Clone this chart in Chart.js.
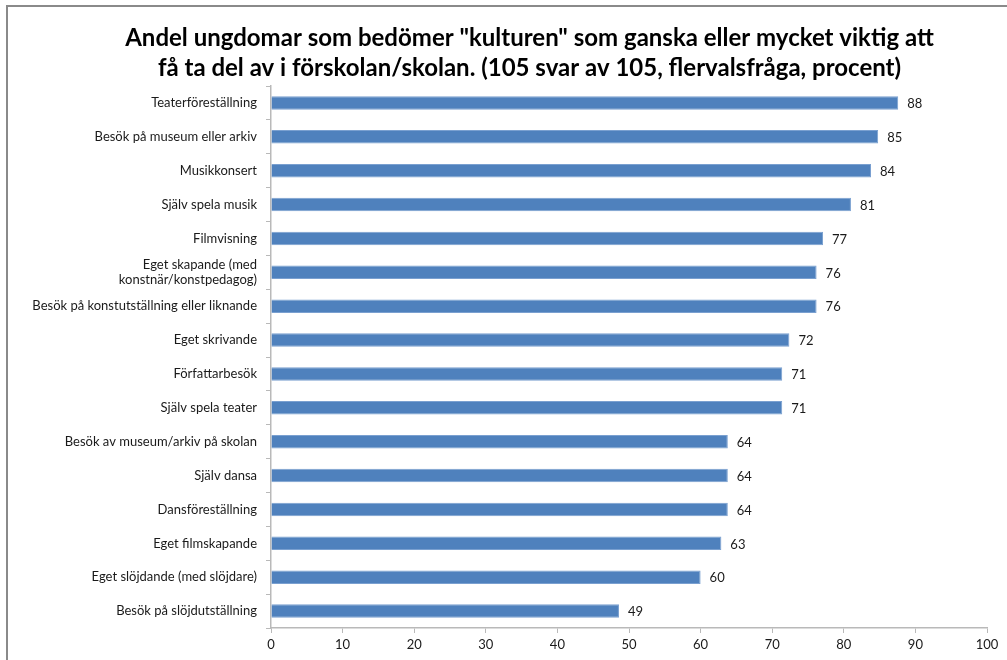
<!DOCTYPE html>
<html>
<head>
<meta charset="utf-8">
<script src="https://cdn.jsdelivr.net/npm/chart.js@4"></script>
<style>
  body { margin: 0; background: #fff; }
  #frame { position: absolute; left: 6px; top: 5px; width: 1100px; height: 700px;
           border-left: 2px solid #8a8a8a; border-top: 2px solid #8a8a8a; }
  #wrap { position: absolute; left: 0; top: 0; width: 1007px; height: 660px; }
</style>
</head>
<body>
<div id="frame"></div>
<div id="wrap"><canvas id="kulturChart"></canvas></div>
<script>
const categories = [
  "Teaterföreställning",
  "Besök på museum eller arkiv",
  "Musikkonsert",
  "Själv spela musik",
  "Filmvisning",
  ["Eget skapande (med", "konstnär/konstpedagog)"],
  "Besök på konstutställning eller liknande",
  "Eget skrivande",
  "Författarbesök",
  "Själv spela teater",
  "Besök av museum/arkiv på skolan",
  "Själv dansa",
  "Dansföreställning",
  "Eget filmskapande",
  "Eget slöjdande (med slöjdare)",
  "Besök på slöjdutställning"
];
// percent (labels are rounded)
const values = [87.6, 84.8, 83.8, 81.0, 77.1, 76.2, 76.2, 72.4, 71.4, 71.4, 63.8, 63.8, 63.8, 62.9, 60.0, 48.6];
const xTicks = [0, 10, 20, 30, 40, 50, 60, 70, 80, 90, 100];

const titleLines = [
  'Andel ungdomar som bedömer "kulturen" som ganska eller mycket viktig att',
  'få ta del av i förskolan/skolan. (105 svar av 105, flervalsfråga, procent)'
];

const axisGray = "#b9b9b9";
const textCol = "#1a1a1a";
const fontFam = "Lato, 'Open Sans', sans-serif";

// value labels to the right of each bar
const valueLabels = {
  id: "valueLabels",
  afterDatasetsDraw(chart) {
    const ctx = chart.ctx;
    const meta = chart.getDatasetMeta(0);
    ctx.save();
    ctx.font = "13px " + fontFam;
    ctx.fillStyle = textCol;
    ctx.textAlign = "left";
    ctx.textBaseline = "middle";
    meta.data.forEach(function(bar, i) {
      ctx.fillText(String(Math.round(values[i])), bar.x + 9, bar.y + 1);
    });
    ctx.restore();
  }
};

// the title sits a bit right of the canvas centre in the original
const shiftTitle = {
  id: "shiftTitle",
  afterLayout(chart) {
    const t = chart.titleBlock;
    if (t) { t.left += 36; t.right += 36; }
  }
};

const ctx = document.getElementById("kulturChart").getContext("2d");
new Chart(ctx, {
  type: "bar",
  data: {
    labels: categories,
    datasets: [{
      data: values,
      backgroundColor: "#4f81bd",
      borderColor: "#7aa0d0",
      borderWidth: 1,
      barPercentage: 0.8,
      categoryPercentage: 0.5
    }]
  },
  options: {
    indexAxis: "y",
    responsive: true,
    maintainAspectRatio: false,
    animation: false,
    layout: { padding: { top: 8, right: 20, left: 0, bottom: 0 } },
    plugins: {
      legend: { display: false },
      tooltip: { enabled: false },
      title: {
        display: true,
        text: titleLines,
        color: "#000",
        font: { family: fontFam, size: 24, weight: "bold", lineHeight: 1.25 },
        padding: { top: 15, bottom: 3 }
      }
    },
    scales: {
      x: {
        min: 0,
        max: 100,
        afterBuildTicks(scale) {
          scale.ticks = xTicks.map(v => ({ value: v }));
        },
        afterFit(scale) { scale.height = 32; },
        grid: { drawOnChartArea: false, color: axisGray, tickLength: 5 },
        border: { color: axisGray, width: 1.5 },
        ticks: { color: textCol, padding: 4, font: { family: fontFam, size: 13 } }
      },
      y: {
        afterFit(scale) { scale.width = 271; },
        grid: { drawOnChartArea: false, color: axisGray, tickLength: 5, offset: true },
        border: { color: axisGray, width: 1.5 },
        ticks: { color: textCol, padding: 9, autoSkip: false, font: { family: fontFam, size: 13, lineHeight: 1.2 } }
      }
    }
  },
  plugins: [valueLabels, shiftTitle]
});
</script>
</body>
</html>
